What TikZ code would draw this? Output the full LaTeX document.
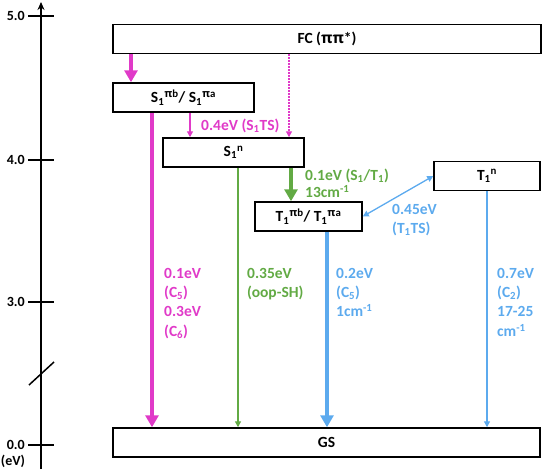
\documentclass[tikz,border=0pt]{standalone}
\usepackage{fontspec}
\setmainfont{Carlito}
\newfontfamily\grkfont{Open Sans}
\newcommand{\pigr}{{\grkfont π}}
\usetikzlibrary{arrows.meta}
\definecolor{spink}{RGB}{224,58,200}
\definecolor{sgreen}{RGB}{98,170,68}
\definecolor{sblue}{RGB}{92,170,238}

\begin{document}
\begin{tikzpicture}[x=1pt,y=-1pt,
    font=\bfseries\fontsize{15.5}{19}\selectfont,
    level/.style={draw,line width=1.5pt,inner sep=0pt,minimum height=29pt},
    thin arrow/.style={line width=1.3pt,-{Triangle[width=6pt,length=6pt]}},
    thick arrow/.style={line width=4.5pt,-{Triangle[width=13pt,length=12pt]}},
    label/.style={anchor=north west,align=left,inner sep=0pt,
      font=\bfseries\fontsize{15.5}{19.3}\selectfont}]
  \useasboundingbox (0,0) rectangle (543,469);
  % energy axis
  \draw[line width=1.5pt,-{Stealth[length=8pt,width=7pt]}] (41,469) -- (41,2);
  \foreach \y/\t/\n in {16/5.0/e5,160/4.0/e4,302/3.0/e3,445/0.0/e0}{
    \draw[line width=1.5pt] (28,\y) -- (54,\y);
    \node[anchor=east,inner sep=0pt,font=\bfseries\fontsize{14}{16}\selectfont] (\n) at (25,\y) {\t};
  }
  \node[inner sep=0pt,font=\bfseries\fontsize{14}{16}\selectfont] (eV) at (13,461) {(eV)};
  \draw[line width=1.5pt] (29,385) -- (54,362);
  % states
  \node[level,minimum width=428pt] (FC) at (327,39) {FC (\pigr\pigr*)};
  \node[level,minimum width=141pt] (S1pi) at (183.5,97.5)
    {S\textsubscript{1}\textsuperscript{\pigr b}/ S\textsubscript{1}\textsuperscript{\pigr a}};
  \node[level,minimum width=141pt] (S1n) at (233.5,152.5) {S\textsubscript{1}\textsuperscript{n}};
  \node[level,minimum width=107pt] (T1pi) at (308.5,216.5)
    {T\textsubscript{1}\textsuperscript{\pigr b}/ T\textsubscript{1}\textsuperscript{\pigr a}};
  \node[level,minimum width=106pt] (T1n) at (487,176) {T\textsubscript{1}\textsuperscript{n}};
  \node[level,minimum width=427pt] (GS) at (326.5,442.5) {GS};
  % columns of the transitions
  \coordinate (xa) at (131,0);
  \coordinate (xb) at (152,0);
  \coordinate (xc) at (190,0);
  \coordinate (xd) at (238,0);
  \coordinate (xe) at (289,0);
  \coordinate (xf) at (291,0);
  \coordinate (xg) at (327,0);
  \coordinate (xh) at (487,0);
  % transitions
  \draw[thick arrow,spink] (FC.south -| xa) -- (S1pi.north -| xa);
  \draw[thin arrow,spink,dash pattern=on 1.5pt off 1.5pt] (FC.south -| xe) -- (S1n.north -| xe);
  \draw[thin arrow,spink] (S1pi.south -| xc) -- (S1n.north -| xc);
  \draw[thick arrow,spink] (S1pi.south -| xb) -- (GS.north -| xb);
  \draw[thin arrow,sgreen] (S1n.south -| xd) -- (GS.north -| xd);
  \draw[thick arrow,sgreen] (S1n.south -| xf) -- (T1pi.north -| xf);
  \draw[thick arrow,sblue] (T1pi.south -| xg) -- (GS.north -| xg);
  \draw[thin arrow,sblue] (T1n.south -| xh) -- (GS.north -| xh);
  \draw[line width=1.3pt,sblue,{Triangle[width=6pt,length=6pt]}-{Triangle[width=6pt,length=6pt]}] (T1pi.east) -- (T1n.west);
  % barriers
  \node[label,anchor=west,text=spink] (lS1TS) at (201,126) {0.4eV (S\textsubscript{1}TS)};
  \node[label,text=sgreen,font=\bfseries\fontsize{15.5}{17}\selectfont] (lST) at (305,169)
    {0.1eV (S\textsubscript{1}/T\textsubscript{1})\\13cm\textsuperscript{-1}};
  \node[label,text=sblue] (lT1TS) at (392,204) {0.45eV\\(T\textsubscript{1}TS)};
  \node[label,text=spink] (lC56) at (164,268)
    {0.1eV\\(C\textsubscript{5})\\0.3eV\\(C\textsubscript{6})};
  \node[label,text=sgreen] (loop) at (247,268) {0.35eV\\(oop-SH)};
  \node[label,text=sblue] (lC5) at (336,268) {0.2eV\\(C\textsubscript{5})\\1cm\textsuperscript{-1}};
  \node[label,text=sblue] (lC2) at (497,268) {0.7eV\\(C\textsubscript{2})\\17-25\\cm\textsuperscript{-1}};
\end{tikzpicture}
\end{document}
